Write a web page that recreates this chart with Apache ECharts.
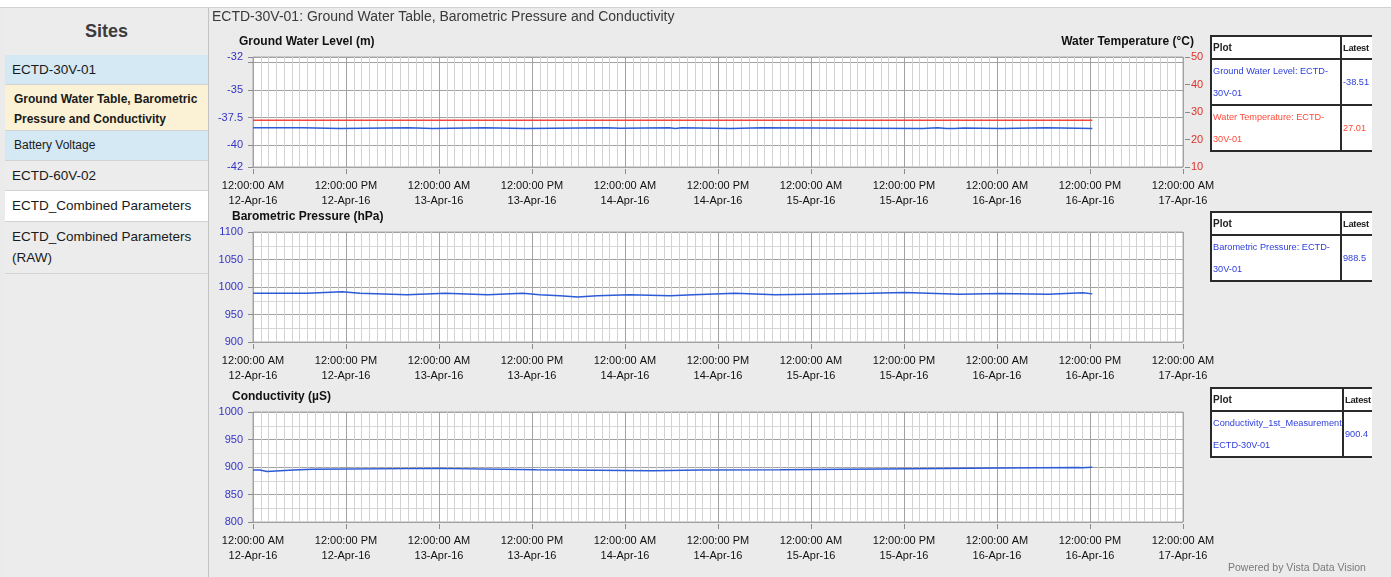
<!DOCTYPE html>
<html>
<head>
<meta charset="utf-8">
<title>ECTD-30V-01</title>
<script src="https://cdn.jsdelivr.net/npm/echarts@6.0.0/dist/echarts.min.js"></script>
<style>
  body { margin: 0; width: 1391px; height: 577px; overflow: hidden; position: relative; background: #fff;
         font-family: 'Liberation Sans', Arial, sans-serif; }
  .page { position: absolute; left: 0; top: 7px; width: 1391px; height: 570px; background: #ebebeb; border-top: 1px solid #d2d2d2; }
  .side { position: absolute; left: 5px; top: 8px; width: 203px; height: 569px; background: #ececec; border-right: 1px solid #c2c2c2; }
  .side div { position: absolute; left: 0; width: 203px; box-sizing: border-box; border-bottom: 1px solid #d3d3d3; color: #1a1a1a; white-space: nowrap; }
  .sites { top: 0; height: 47px; line-height: 47px; text-align: center; font-size: 18px; font-weight: bold; color: #3c3c3c !important; border-bottom: none !important; }
  .blue { background: #d5e9f4; }
  .yellow { background: #fbf2d5; }
  .white { background: #fff; }
  #chart { position: absolute; left: 0; top: 0; width: 1391px; height: 577px; z-index: 1; }
  .legends { position: absolute; left: 1200px; top: 0; width: 172px; height: 577px; overflow: hidden; z-index: 2; }
  .legends table { position: absolute; left: 10px; border-collapse: collapse; table-layout: fixed; }
  .legends td { border: 2px solid #2a2a2a; background: #fff; padding: 0 1px; vertical-align: middle; white-space: nowrap; overflow: hidden; }
  .legends .hd td { font-size: 10px; font-weight: bold; color: #222; height: 21px; padding: 0 0 0 1px; }
  .legends .hd td + td { font-size: 9.4px; letter-spacing: -0.3px; }
  .legends .row td { font-size: 9.2px; line-height: 22px; height: 42px; }
  .b { color: #3040dd; }
  .r { color: #ff4a3a; }
</style>
</head>
<body>
<div class="page"></div>
<div class="side">
  <div class="sites">Sites</div>
  <div class="blue" style="top:47px;height:30px;line-height:29px;font-size:13.5px;padding-left:7px;">ECTD-30V-01</div>
  <div class="yellow" style="top:77px;height:46px;font-size:12px;font-weight:bold;line-height:20px;padding:4px 0 0 9px;">Ground Water Table, Barometric<br>Pressure and Conductivity</div>
  <div class="blue" style="top:123px;height:30px;line-height:29px;font-size:12px;padding-left:9px;">Battery Voltage</div>
  <div style="top:153px;height:30px;line-height:29px;font-size:13.5px;padding-left:7px;">ECTD-60V-02</div>
  <div class="white" style="top:183px;height:31px;line-height:30px;font-size:13.5px;padding-left:7px;">ECTD_Combined Parameters</div>
  <div style="top:214px;height:52px;line-height:21px;font-size:13.5px;padding:4px 0 0 7px;">ECTD_Combined Parameters<br>(RAW)</div>
</div>
<div id="chart"></div>
<div class="legends">
  <table style="top:35px;width:162px;">
    <colgroup><col style="width:130px"><col style="width:32px"></colgroup>
    <tr class="hd"><td>Plot</td><td>Latest</td></tr>
    <tr class="row"><td class="b">Ground Water Level: ECTD-<br>30V-01</td><td class="b">-38.51</td></tr>
    <tr class="row"><td class="r">Water Temperature: ECTD-<br>30V-01</td><td class="r">27.01</td></tr>
  </table>
  <table style="top:211px;width:162px;">
    <colgroup><col style="width:130px"><col style="width:32px"></colgroup>
    <tr class="hd"><td>Plot</td><td>Latest</td></tr>
    <tr class="row"><td class="b">Barometric Pressure: ECTD-<br>30V-01</td><td class="b">988.5</td></tr>
  </table>
  <table style="top:387px;width:168px;">
    <colgroup><col style="width:132px"><col style="width:36px"></colgroup>
    <tr class="hd"><td>Plot</td><td>Latest</td></tr>
    <tr class="row"><td class="b">Conductivity_1st_Measurement:<br>ECTD-30V-01</td><td class="b">900.4</td></tr>
  </table>
</div>
<script>
// x values are hours after 12-Apr-16 12:00:00 AM
const xTickLabels = [
  '12:00:00 AM\n12-Apr-16', '12:00:00 PM\n12-Apr-16',
  '12:00:00 AM\n13-Apr-16', '12:00:00 PM\n13-Apr-16',
  '12:00:00 AM\n14-Apr-16', '12:00:00 PM\n14-Apr-16',
  '12:00:00 AM\n15-Apr-16', '12:00:00 PM\n15-Apr-16',
  '12:00:00 AM\n16-Apr-16', '12:00:00 PM\n16-Apr-16',
  '12:00:00 AM\n17-Apr-16'
];

const gwlTicks = [-42, -40, -37.5, -35, -32.5, -32];
const gwlLabels = [-42, -40, -37.5, -35, -32];

const gwlHours = [0, 6.5, 11.2, 20, 23.2, 29.9, 35.1, 45.7, 47.4, 53.7, 54.5, 55.3, 61.7, 65.7, 86.4, 88.3, 89.5, 90.5, 91.7, 96.6, 102.4, 108.3];
const gwlValues = [-38.43, -38.51, -38.43, -38.51, -38.43, -38.51, -38.43, -38.48, -38.43, -38.49, -38.44, -38.51, -38.43, -38.51, -38.43, -38.49, -38.51, -38.46, -38.51, -38.43, -38.51, -38.51];

const tempHours = [0, 24, 48, 72, 96, 108.3];
const tempValues = [27.01, 27.01, 27.0, 27.01, 27.01, 27.01];

const bpHours = [0, 7.0, 11.5, 13.8, 19.9, 24.8, 30.3, 34.8, 37.0, 39.6, 41.9, 44.4, 48.6, 53.8, 56.8, 62.2, 67.4, 79.6, 84.1, 91.2, 96.4, 102.6, 107.1, 108.3];
const bpValues = [988.5, 991.5, 988.5, 986, 988.5, 986, 988.5, 986, 984, 982, 984, 986, 984, 986, 988.5, 986, 988.5, 990, 987, 988, 987, 989.5, 987.5, 988.5];

const condHours = [0, 0.9, 1.8, 5.2, 7.7, 23.7, 36.6, 51.6, 57.7, 68, 80.9, 96.4, 106.5, 107, 108.3];
const condValues = [894.5, 892, 894.5, 896, 897.5, 895, 893, 894.5, 895, 896.5, 898, 899, 898.5, 899.5, 900.4];

const FONT = "'Liberation Sans', Arial, sans-serif";

function pairs(xs, ys) {
  return xs.map((h, i) => [h, ys[i]]);
}

function timeAxis(gridIndex) {
  return {
    type: 'value', gridIndex: gridIndex, min: 0, max: 120, interval: 12, offset: 2,
    axisLine: { show: false },
    axisTick: { show: true, length: 5, lineStyle: { color: '#8a8a8a' } },
    minorTick: { show: false, splitNumber: 12 },
    splitLine: { show: true, lineStyle: { color: '#a2a2a2', width: 1 } },
    minorSplitLine: { show: true, lineStyle: { color: '#d2d2d2', width: 1 } },
    axisLabel: {
      margin: 9, color: '#111', fontSize: 11, lineHeight: 15, fontFamily: FONT,
      formatter: v => xTickLabels[Math.round(v / 12)]
    }
  };
}

function leftAxis(gridIndex, min, max) {
  return {
    type: 'value', gridIndex: gridIndex, position: 'left', min: min, max: max, interval: 50, offset: 3,
    axisLine: { show: false },
    axisTick: { show: true, length: 5, lineStyle: { color: '#8a8a8a' } },
    minorTick: { show: false, splitNumber: 2 },
    splitLine: { show: true, lineStyle: { color: '#a2a2a2' } },
    minorSplitLine: { show: true, lineStyle: { color: '#d6d6d6' } },
    axisLabel: { margin: 7, color: '#3434c8', fontSize: 11, fontFamily: FONT, formatter: v => String(v) }
  };
}

function lineSeries(xi, yi, data, color) {
  return {
    type: 'line', xAxisIndex: xi, yAxisIndex: yi, data: data, step: 'end',
    showSymbol: false, symbol: 'none', color: color,
    lineStyle: { color: color, width: 1.5 }
  };
}

function chartTitle(text, pos) {
  return Object.assign({
    text: text, padding: 0,
    textStyle: { fontSize: 12, fontWeight: 'bold', color: '#111', fontFamily: FONT }
  }, pos);
}

const grid = { left: 253, width: 930, height: 110, show: true, backgroundColor: '#fff', borderColor: '#a8a8a8', borderWidth: 1 };

const chart = echarts.init(document.getElementById('chart'));
chart.setOption({
  animation: false,
  title: [
    { text: 'ECTD-30V-01: Ground Water Table, Barometric Pressure and Conductivity', left: 212, top: 10, padding: 0,
      textStyle: { fontSize: 14, fontWeight: 'normal', color: '#3a3a3a', fontFamily: FONT } },
    chartTitle('Ground Water Level (m)', { left: 239, top: 36 }),
    chartTitle('Water Temperature (°C)', { right: 197, top: 36 }),
    chartTitle('Barometric Pressure (hPa)', { left: 232, top: 211 }),
    chartTitle('Conductivity (µS)', { left: 232, top: 391 }),
    { text: 'Powered by Vista Data Vision', left: 1228, top: 563, padding: 0,
      textStyle: { fontSize: 10.5, fontWeight: 'normal', color: '#7a7a7a', fontFamily: FONT } }
  ],
  grid: [
    Object.assign({ top: 57 }, grid),
    Object.assign({ top: 232 }, grid),
    Object.assign({ top: 412 }, grid)
  ],
  xAxis: [timeAxis(0), timeAxis(1), timeAxis(2)],
  yAxis: [
    {
      type: 'value', gridIndex: 0, position: 'left', min: -42, max: -32, offset: 3,
      axisLine: { show: false },
      axisTick: { show: true, length: 5, customValues: gwlTicks, lineStyle: { color: '#8a8a8a' } },
      splitLine: { show: true, lineStyle: { color: '#a2a2a2' } },
      axisLabel: { customValues: gwlLabels, margin: 7, color: '#3434c8', fontSize: 11, fontFamily: FONT }
    },
    {
      type: 'value', gridIndex: 0, position: 'right', min: 10, max: 50, interval: 10, offset: 2,
      axisLine: { show: false },
      axisTick: { show: true, length: 5, lineStyle: { color: '#8a8a8a' } },
      splitLine: { show: false },
      axisLabel: { margin: 6, color: '#e0322a', fontSize: 11, fontFamily: FONT }
    },
    leftAxis(1, 900, 1100),
    leftAxis(2, 800, 1000)
  ],
  series: [
    lineSeries(0, 0, pairs(gwlHours, gwlValues), '#2d5ad6'),
    lineSeries(0, 1, pairs(tempHours, tempValues), '#f2453b'),
    lineSeries(1, 2, pairs(bpHours, bpValues), '#2d5ad6'),
    lineSeries(2, 3, pairs(condHours, condValues), '#2d5ad6')
  ]
});
</script>
</body>
</html>
